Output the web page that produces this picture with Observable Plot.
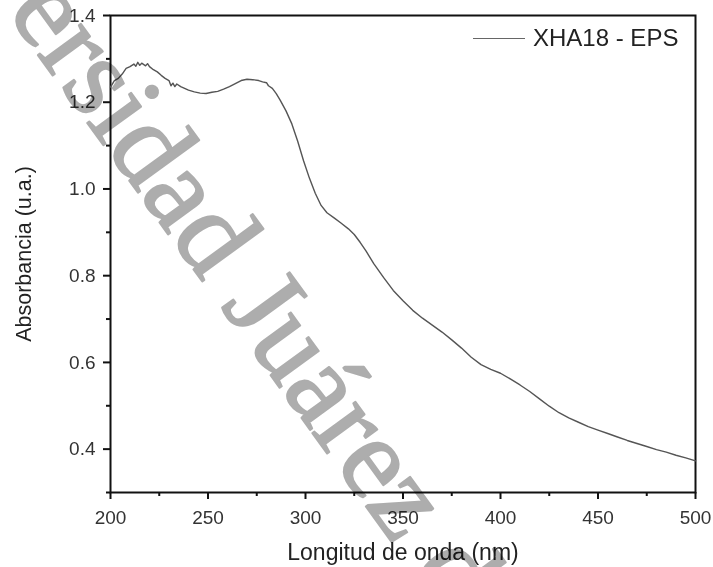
<!DOCTYPE html>
<html>
<head>
<meta charset="utf-8">
<script src="https://cdn.jsdelivr.net/npm/d3@7"></script>
<script src="https://cdn.jsdelivr.net/npm/@observablehq/plot@0.6"></script>
<style>
  html, body { margin: 0; padding: 0; background: #fff; }
  #wrap { position: relative; width: 713px; height: 567px; }
  #legend { position: absolute; left: 473px; top: 24px; display: flex; align-items: center;
            font-family: "Liberation Sans", Arial, sans-serif; font-size: 24px; color: #222; }
  #legend .ln { width: 52px; border-top: 1.6px solid #666; margin-right: 8px; }
</style>
</head>
<body>
<div id="wrap"></div>
<script>
// Wavelength (nm) and absorbance (u.a.)
const wavelength = [200,202,204,206,208,210,212,213,214,215,216,218,219,220,222,224,226,228,230,231,232,233,234,236,238,240,243,246,249,252,255,258,261,264,267,270,273,276,278,280,281,283,285,287,290,293,296,299,302,305,308,311,315,318,322,325,328,331,335,340,345,350,355,360,365,370,375,380,385,390,395,400,405,410,415,420,425,430,435,440,445,450,455,460,465,470,475,480,485,490,495,500];
const absorbance = [1.235,1.25,1.255,1.265,1.278,1.282,1.288,1.283,1.292,1.285,1.29,1.284,1.289,1.282,1.275,1.27,1.262,1.255,1.25,1.238,1.244,1.236,1.242,1.236,1.232,1.228,1.224,1.221,1.22,1.223,1.225,1.23,1.236,1.243,1.25,1.253,1.252,1.25,1.247,1.245,1.238,1.232,1.22,1.205,1.18,1.15,1.11,1.065,1.025,0.99,0.962,0.945,0.932,0.922,0.908,0.895,0.877,0.857,0.828,0.796,0.766,0.742,0.72,0.702,0.686,0.67,0.652,0.633,0.612,0.595,0.584,0.575,0.562,0.548,0.533,0.516,0.499,0.484,0.472,0.462,0.452,0.444,0.436,0.428,0.42,0.413,0.406,0.399,0.393,0.386,0.38,0.373];
const seriesName = "XHA18 - EPS";
const xMajorTicks = [200,250,300,350,400,450,500];
const xMinorTicks = [225,275,325,375,425,475];
const yMajorTicks = [0.4,0.6,0.8,1.0,1.2,1.4];
const yMinorTicks = [0.3,0.5,0.7,0.9,1.1,1.3];
const xTitle = "Longitud de onda (nm)";
const yTitle = "Absorbancia (u.a.)";
const watermark = "Universidad Juárez del Estado de Durango";

const data = wavelength.map((w, i) => ({w, a: absorbance[i]}));

const plot = Plot.plot({
  width: 713,
  height: 567,
  marginLeft: 110,
  marginRight: 18,
  marginTop: 15,
  marginBottom: 75,
  style: {fontFamily: "'Liberation Sans', Arial, sans-serif", fontSize: "19px", color: "#333", background: "#fff"},
  x: {domain: [200, 500]},
  y: {domain: [0.3, 1.4]},
  marks: [
    Plot.frame({stroke: "#111", strokeWidth: 2}),
    Plot.axisX({ticks: xMajorTicks, tickSize: 7, tickPadding: 11, tickFormat: d3.format("d"), label: null, stroke: "#111", strokeWidth: 2, fill: "#333"}),
    Plot.axisX({ticks: xMinorTicks, tickSize: 4, tickFormat: () => "", label: null, stroke: "#111", strokeWidth: 2}),
    Plot.axisY({ticks: yMajorTicks, tickSize: 7, tickPadding: 8, tickFormat: d3.format(".1f"), label: null, stroke: "#111", strokeWidth: 2, fill: "#333"}),
    Plot.axisY({ticks: yMinorTicks, tickSize: 4, tickFormat: () => "", label: null, stroke: "#111", strokeWidth: 2}),
    Plot.line(data, {x: "w", y: "a", stroke: "#555", strokeWidth: 1.4}),
    Plot.text([xTitle], {frameAnchor: "bottom", textAnchor: "middle", lineAnchor: "middle", dy: 60, fontSize: 23, fill: "#222"}),
    Plot.text([yTitle], {frameAnchor: "left", textAnchor: "middle", lineAnchor: "middle", dx: -86, rotate: -90, fontSize: 21.5, fill: "#222"}),
    Plot.text([watermark], {frameAnchor: "top-left", dx: -174, dy: -240, rotate: 54, textAnchor: "start",
      fontSize: 116, fontFamily: "'Liberation Serif', 'Times New Roman', serif",
      fill: "#adadad", stroke: "#adadad", strokeWidth: 2, mixBlendMode: "multiply"})
  ]
});

const wrap = document.getElementById("wrap");
wrap.appendChild(plot);
const legend = document.createElement("div");
legend.id = "legend";
legend.innerHTML = `<span class="ln"></span><span>${seriesName}</span>`;
wrap.appendChild(legend);
</script>
</body>
</html>
